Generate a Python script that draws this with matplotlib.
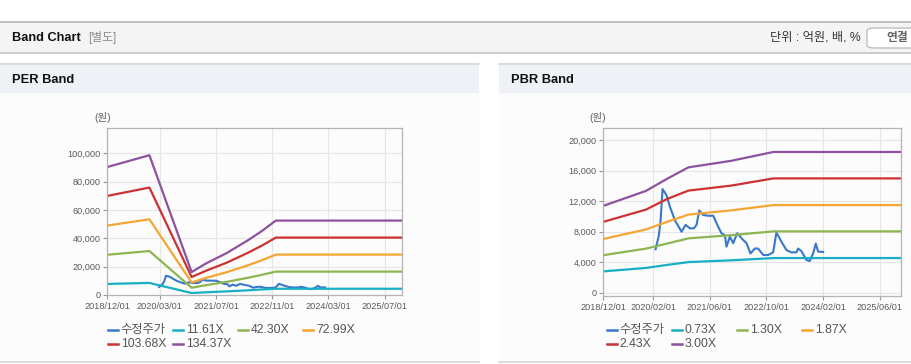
import numpy as np
import pandas as pd
import matplotlib
matplotlib.use("Agg")
import matplotlib.pyplot as plt
import matplotlib.dates as mdates
from matplotlib.patches import Rectangle, FancyBboxPatch
from matplotlib.lines import Line2D
from matplotlib.ticker import FuncFormatter

plt.rcParams['font.family'] = ['Liberation Sans', 'Noto Sans CJK KR', 'DejaVu Sans']

W, H = 912, 364

# --- 데이터 ---
price_dates = ['2020-02-23', '2020-03-22', '2020-04-06', '2020-04-23', '2020-05-27',
               '2020-06-25', '2020-08-07', '2020-10-03', '2020-11-07', '2020-12-14',
               '2021-01-17', '2021-02-09', '2021-03-04', '2021-04-07', '2021-05-20',
               '2021-07-02', '2021-08-14', '2021-09-11', '2021-10-10', '2021-10-24',
               '2021-11-22', '2021-12-21', '2022-01-24', '2022-03-02', '2022-04-14',
               '2022-05-18', '2022-06-24', '2022-07-23', '2022-09-04', '2022-10-17',
               '2022-11-29', '2022-12-27', '2023-02-08', '2023-03-23', '2023-05-05',
               '2023-06-17', '2023-07-01', '2023-07-30', '2023-09-11', '2023-10-09',
               '2023-11-07', '2023-11-30', '2023-12-20', '2024-02-01']
price = [5700, 7500, 9500, 13600, 12800,
         11300, 9500, 8000, 8900, 8450,
         8450, 8900, 10800, 10200, 10100,
         10100, 8650, 7800, 7550, 6050,
         7350, 6500, 7800, 7150, 6500,
         5150, 5800, 5800, 4950, 4950,
         5300, 7900, 6700, 5600, 5300,
         5300, 5800, 5450, 4300, 4150,
         5150, 6450, 5400, 5350]

per_dates = ['2018-12-01', '2019-12-01', '2020-12-01', '2021-04-01', '2021-10-01',
             '2022-04-01', '2022-08-01', '2022-12-01', '2025-12-01']
per_1161 = [7800, 8500, 1400, 1900, 2550, 3300, 3900, 4400, 4400]
per_4230 = [28400, 31000, 5100, 6900, 9300, 12100, 14200, 16500, 16500]
per_7299 = [49000, 53400, 8800, 12000, 16100, 20900, 24500, 28500, 28500]
per_10368 = [69900, 75800, 12700, 17000, 22800, 29700, 34800, 40500, 40500]
per_13437 = [90300, 98600, 16200, 22100, 29600, 38500, 45100, 52500, 52500]
per_labels = ['수정주가', '11.61X', '42.30X', '72.99X', '103.68X', '134.37X']
per_ticks = ['2018-12-01', '2020-03-01', '2021-07-01', '2022-11-01', '2024-03-01', '2025-07-01']

pbr_dates = ['2018-12-01', '2019-12-01', '2020-06-01', '2020-12-01', '2021-12-01',
             '2022-12-01', '2025-12-01']
pbr_073 = [2800, 3250, 3650, 4020, 4250, 4550, 4550]
pbr_130 = [4930, 5780, 6450, 7130, 7550, 8050, 8050]
pbr_187 = [7050, 8300, 9300, 10250, 10800, 11500, 11500]
pbr_243 = [9300, 10900, 12300, 13400, 14050, 15000, 15000]
pbr_300 = [11400, 13350, 14950, 16450, 17300, 18470, 18470]
pbr_labels = ['수정주가', '0.73X', '1.30X', '1.87X', '2.43X', '3.00X']
pbr_ticks = ['2018-12-01', '2020-02-01', '2021-06-01', '2022-10-01', '2024-02-01', '2025-06-01']

colors = ['#3a78c8', '#19adc6', '#8db552', '#f5a531', '#cc3232', '#8e519d']

# --- 그림 틀 ---
fig = plt.figure(figsize=(W / 100, H / 100), dpi=100)
fig.patch.set_facecolor('white')


def fx(x):
    return x / W


def fy(y):
    return 1 - y / H


def rect(x0, y0, x1, y1, fc, ec='none', lw=0):
    fig.add_artist(Rectangle((fx(x0), fy(y1)), fx(x1) - fx(x0), fy(y0) - fy(y1),
                             transform=fig.transFigure, facecolor=fc, edgecolor=ec,
                             linewidth=lw, zorder=0))


def hline(x0, x1, y, color, lw=1.0):
    fig.add_artist(Line2D([fx(x0), fx(x1)], [fy(y), fy(y)], transform=fig.transFigure,
                          color=color, linewidth=lw, zorder=1))


# 상단 헤더
hline(0, W, 22, '#b4b4b4', 1.2)
rect(0, 23, W, 53, '#f4f4f4')
hline(0, W, 53, '#c4c4c4', 1.2)
fig.text(fx(12), fy(38), 'Band Chart', fontsize=9.2, fontweight='bold', color='#111111', va='center')
fig.text(fx(88), fy(38), '[별도]', fontsize=8.5, color='#8a8a8a', va='center')
fig.text(fx(861), fy(38), '단위 : 억원, 배, %', fontsize=8.8, color='#333333', va='center', ha='right')
fig.add_artist(FancyBboxPatch((fx(867), fy(48)), fx(60), fy(28) - fy(48),
                              boxstyle='round,pad=0,rounding_size=0.008',
                              transform=fig.transFigure, facecolor='white',
                              edgecolor='#b8b8b8', linewidth=0.9, zorder=2))
fig.text(fx(886), fy(38), '연결', fontsize=8.5, fontweight='bold', color='#666666', va='center', zorder=3)

# 패널 배경
for x0, x1, title in [(0, 479, 'PER Band'), (499, W, 'PBR Band')]:
    hline(x0, x1, 64, '#d4d4d4', 1.2)
    rect(x0, 65, x1, 93, '#eef2f7')
    rect(x0, 93, x1, 361, '#fcfcfc')
    hline(x0, x1, 361.5, '#d4d4d4', 1.2)
    fig.text(fx(x0 + 12), fy(80), title, fontsize=9.3, fontweight='bold', color='#111111', va='center')


def setup_axes(box, dates_ticks, ylim, yticks, ylab_x):
    left, top, right, bottom = box
    ax = fig.add_axes([fx(left), fy(bottom), fx(right) - fx(left), fy(top) - fy(bottom)])
    ax.set_facecolor('#fcfcfc')
    ax.set_xlim(pd.Timestamp('2018-12-01'), pd.Timestamp('2025-12-01'))
    ax.set_ylim(*ylim)
    ax.set_xticks(pd.to_datetime(dates_ticks))
    ax.xaxis.set_major_formatter(mdates.DateFormatter('%Y/%m/%d'))
    ax.set_yticks(yticks)
    ax.yaxis.set_major_formatter(FuncFormatter(lambda v, p: f'{int(v):,}'))
    ax.grid(True, color='#e6e6e6', linewidth=0.8)
    ax.set_axisbelow(True)
    for s in ax.spines.values():
        s.set_color('#b4b4b4')
        s.set_linewidth(0.9)
    ax.tick_params(axis='both', labelsize=6.6, colors='#999999', labelcolor='#5a5a5a',
                   length=3, width=0.8, pad=2)
    fig.text(fx(ylab_x), fy(118), '(원)', fontsize=7.5, color='#606060', ha='center', va='center')
    return ax


def legend(x0, labels):
    col = 65.2
    for k, lab in enumerate(labels):
        r, c = divmod(k, 4)
        x = x0 + c * col
        y = 330 + r * 14
        fig.add_artist(Line2D([fx(x), fx(x + 10)], [fy(y), fy(y)], transform=fig.transFigure,
                              color=colors[k], linewidth=1.8, zorder=3))
        fig.text(fx(x + 13), fy(y), lab, fontsize=8.8, color='#555555', va='center')


# --- PER Band ---
ax1 = setup_axes((107.3, 128.3, 402.3, 295.0), per_ticks, (0, 117600),
                 np.arange(0, 100001, 20000), 103)
pd_per = pd.to_datetime(per_dates)
ax1.plot(pd.to_datetime(price_dates), price, color=colors[0], lw=1.5)
for k, band in enumerate([per_1161, per_4230, per_7299, per_10368, per_13437]):
    ax1.plot(pd_per, band, color=colors[k + 1], lw=1.6)
legend(107.7, per_labels)

# --- PBR Band ---
ax2 = setup_axes((603.3, 128.3, 901.0, 295.7), pbr_ticks, (-390, 21575),
                 np.arange(0, 20001, 4000), 598)
pd_pbr = pd.to_datetime(pbr_dates)
ax2.plot(pd.to_datetime(price_dates), price, color=colors[0], lw=1.5)
for k, band in enumerate([pbr_073, pbr_130, pbr_187, pbr_243, pbr_300]):
    ax2.plot(pd_pbr, band, color=colors[k + 1], lw=1.6)
legend(606.7, pbr_labels)

fig.savefig('out.png', dpi=100, facecolor=fig.get_facecolor())
